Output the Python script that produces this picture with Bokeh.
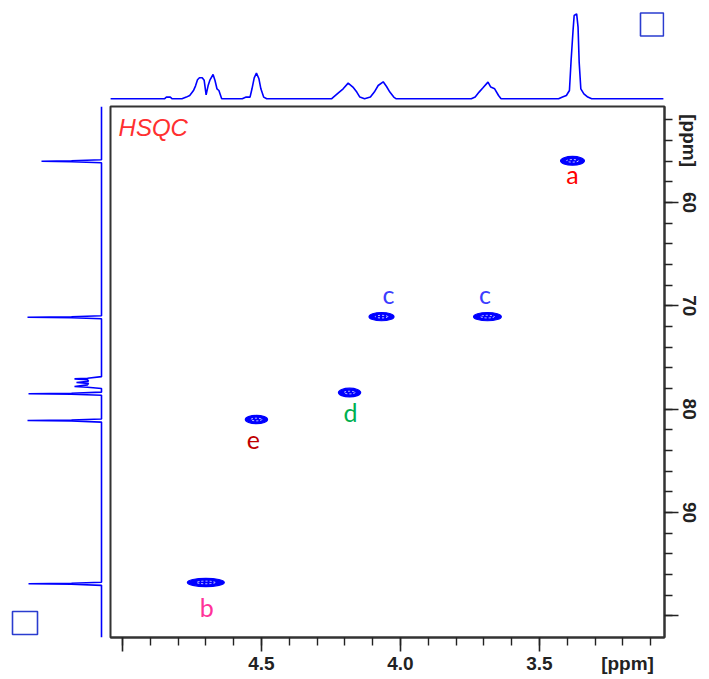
import math
from bokeh.plotting import figure
from bokeh.layouts import column, row
from bokeh.models import Range1d, FixedTicker, CustomJSTickFormatter, ColumnDataSource, LinearAxis
from bokeh.core.properties import value
from bokeh.embed import file_html
from bokeh.resources import INLINE

# ---------------- data ----------------
# 2D HSQC cross peaks (F2 = 1H ppm, F1 = 13C ppm)
peak_labels = ["a", "b", "c", "c", "d", "e"]
peak_h_ppm = [3.381, 4.700, 4.068, 3.687, 4.183, 4.518]
peak_c_ppm = [55.96, 96.77, 71.04, 71.04, 78.39, 81.00]
peak_h_width = [0.086, 0.133, 0.090, 0.100, 0.080, 0.080]
peak_c_width = [0.85, 0.80, 0.80, 0.80, 0.85, 0.80]
label_colors = ["#ff0000", "#ff3399", "#3c3cff", "#3c3cff", "#00b050", "#c00000"]

# 1H projection trace (ppm, intensity)
top_ppm = [5.044, 4.849, 4.842, 4.828, 4.821, 4.786, 4.770, 4.758, 4.745, 4.737,
           4.730, 4.723, 4.713, 4.706, 4.699, 4.692, 4.685, 4.674, 4.667, 4.660,
           4.653, 4.643, 4.569, 4.555, 4.541, 4.534, 4.526, 4.518, 4.509, 4.502,
           4.492, 4.481, 4.248, 4.241, 4.220, 4.206, 4.188, 4.171, 4.157, 4.146,
           4.129, 4.108, 4.094, 4.080, 4.062, 4.050, 4.038, 4.024, 4.015, 3.745,
           3.731, 3.717, 3.703, 3.685, 3.675, 3.661, 3.647, 3.638, 3.431, 3.417,
           3.403, 3.392, 3.386, 3.379, 3.375, 3.366, 3.361, 3.357, 3.351, 3.340,
           3.326, 3.312, 3.054]
top_int = [0, 0, 1.7, 1.7, 0, 0, 1.7, 3.3, 8, 13,
           19, 21, 21, 18.5, 4, 13, 19, 24.3, 18.3, 10,
           8.3, 0, 0, 1.7, 1.7, 10, 21, 25.7, 20, 10,
           1.7, 0, 0, 1.7, 6.7, 10, 15.7, 11.7, 6.7, 1.7,
           0, 1.7, 6.7, 13.3, 17, 12.3, 6.7, 1.7, 0, 0,
           1.7, 6.7, 11, 16.7, 11.7, 10, 3.3, 0, 0, 1.7,
           3.3, 8.3, 38.3, 68.3, 83.3, 85, 71.7, 36.7, 10, 5,
           1.7, 0, 0]

# 13C projection trace (ppm, intensity)
left_ppm = [50.7,
            55.85, 55.95, 56.00, 56.05, 56.15,
            70.95, 71.05, 71.10, 71.15, 71.25,
            76.85, 77.00, 77.07, 77.15, 77.30, 77.42, 77.50, 77.65, 77.80, 77.88, 78.00,
            78.35, 78.45, 78.50, 78.55, 78.65,
            80.95, 81.05, 81.10, 81.15, 81.25,
            96.75, 96.85, 96.90, 96.95, 97.05,
            102.1]
left_int = [0,
            0, 30, 60, 30, 0,
            0, 30, 74, 30, 0,
            0, 14, 27, 14, 13, 25, 13, 14, 27, 14, 0,
            0, 30, 73, 30, 0,
            0, 30, 74, 30, 0,
            0, 30, 73, 30, 0,
            0]

# axis ticks and tick labels
x_major = [5.0, 4.5, 4.0, 3.5]
x_minor = [5.0, 4.9, 4.8, 4.7, 4.6, 4.5, 4.4, 4.3, 4.2, 4.1, 4.0,
           3.9, 3.8, 3.7, 3.6, 3.5, 3.4, 3.3, 3.2, 3.1]
x_label_pos = [4.5, 4.0, 3.5, 3.183]
x_labels = ["4.5", "4.0", "3.5", "[ppm]"]
y_major = [60, 70, 80, 90, 100]
y_minor = [52, 54, 56, 58, 60, 62, 64, 66, 68, 70, 72, 74, 76, 78, 80,
           82, 84, 86, 88, 90, 92, 94, 96, 98, 100]
y_label_pos = [54, 60, 70, 80, 90]
y_labels = ["[ppm]", "60", "70", "80", "90"]

# ---------------- styling ----------------
BLUE = "#0000ff"
BOX_BLUE = "#2a3ccf"
AX = "#333333"
TXT = "#222222"

x_rng = Range1d(5.043, 3.05)
y_rng = Range1d(102.1, 50.7)

LOOKUP = ("const i = pos.findIndex(t => Math.abs(t - tick) < 1e-6);"
          "return i >= 0 ? labels[i] : '';")

# main 2D panel
main = figure(width=597, height=573, x_range=x_rng, y_range=y_rng,
              output_backend="svg", toolbar_location=None,
              x_axis_location="below", y_axis_location="right",
              min_border=0, min_border_left=2, min_border_right=41,
              min_border_top=2, min_border_bottom=40)
main.grid.visible = False
main.outline_line_color = AX
main.outline_line_width = 2
main.background_fill_color = "white"
main.border_fill_color = "white"

# tick-only axes (frame side)
for ax in (main.xaxis[0], main.yaxis[0]):
    ax.axis_line_color = AX
    ax.axis_line_width = 2
    ax.major_tick_line_color = TXT
    ax.major_tick_line_width = 1.6
    ax.minor_tick_line_color = TXT
    ax.minor_tick_line_width = 1.4
    ax.major_tick_in = 0
    ax.major_tick_out = 14
    ax.minor_tick_in = 0
    ax.minor_tick_out = 8
    ax.major_label_text_font_size = "0px"
    ax.major_label_standoff = 0
    ax.formatter = CustomJSTickFormatter(code="return '';")
main.xaxis[0].ticker = FixedTicker(ticks=x_major, minor_ticks=x_minor)
main.yaxis[0].ticker = FixedTicker(ticks=y_major, minor_ticks=y_minor)

# label-only axes (outer side)
def label_axis(pos, labels, standoff, orientation):
    ax = LinearAxis(ticker=FixedTicker(ticks=pos, minor_ticks=[]),
                    formatter=CustomJSTickFormatter(args=dict(pos=pos, labels=labels), code=LOOKUP))
    ax.axis_line_color = None
    ax.major_tick_line_color = None
    ax.minor_tick_line_color = None
    ax.major_tick_in = 0
    ax.major_tick_out = 0
    ax.minor_tick_in = 0
    ax.minor_tick_out = 0
    ax.major_label_standoff = standoff
    ax.major_label_text_font = "Liberation Sans"
    ax.major_label_text_font_style = "bold"
    ax.major_label_text_font_size = "19px"
    ax.major_label_text_color = TXT
    ax.major_label_orientation = orientation
    return ax

main.add_layout(label_axis(x_label_pos, x_labels, 1, "horizontal"), "below")
main.add_layout(label_axis(y_label_pos, y_labels, 0, "vertical"), "right")

src = ColumnDataSource(dict(x=peak_h_ppm, y=peak_c_ppm, w=peak_h_width, h=peak_c_width,
                            lab=peak_labels, col=label_colors,
                            iw=[v * 0.5 for v in peak_h_width],
                            dx=[0, 1, 7, -2.5, 1, -3],
                            dy=[12.7, 25, -22.3, -23, 19, 20]))
main.ellipse(x="x", y="y", width="w", height="h", source=src,
             fill_color=BLUE, line_color=BLUE, line_width=1.2)
main.ellipse(x="x", y="y", width="iw", height=0.25, source=src,
             fill_color=None, line_color="white", line_width=0.8, line_dash="2 2")
main.text(x="x", y="y", text="lab", source=src, text_color="col",
          x_offset="dx", y_offset="dy",
          text_font=value("Lato"), text_font_size="25px",
          text_align="center", text_baseline="alphabetic")

main.text(x=[5.014], y=[52.75], text=["HSQC"], text_color="#ff3030",
          text_font=value("Liberation Sans"), text_font_style="italic",
          text_font_size="24px", text_align="left", text_baseline="alphabetic")

# top 1H projection
top = figure(width=705, height=104, x_range=x_rng, y_range=Range1d(-5.7, 98.3),
             output_backend="svg", toolbar_location=None,
             x_axis_location=None, y_axis_location=None,
             min_border=0, min_border_left=110, min_border_right=41,
             min_border_top=0, min_border_bottom=0)
top.grid.visible = False
top.outline_line_color = None
top.line(top_ppm, top_int, line_color=BLUE, line_width=1.6)
top.rect(x=[3.095], y=[74.3], width=23, height=23, width_units="screen",
         height_units="screen", fill_color=None, line_color=BOX_BLUE, line_width=1.6)

# left 13C projection
left = figure(width=108, height=573, x_range=Range1d(101, -7), y_range=y_rng,
              output_backend="svg", toolbar_location=None,
              x_axis_location=None, y_axis_location=None,
              min_border=0, min_border_left=0, min_border_right=0,
              min_border_top=2, min_border_bottom=40)
left.grid.visible = False
left.outline_line_color = None
left.line(left_int, left_ppm, line_color=BLUE, line_width=1.6)
left.rect(x=[76.5], y=[100.7], width=25, height=23, width_units="screen",
          height_units="screen", fill_color=None, line_color=BOX_BLUE, line_width=1.6)

layout = column(top, row(left, main))
open("out.html", "w").write(file_html(layout, INLINE))
